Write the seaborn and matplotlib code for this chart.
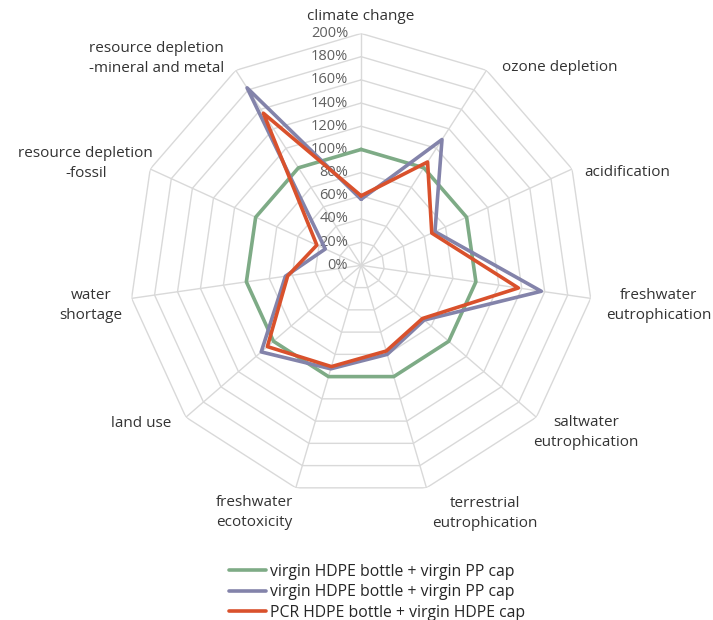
import numpy as np
import pandas as pd
import matplotlib
matplotlib.use('Agg')
import matplotlib.pyplot as plt
import seaborn as sns

sns.set_style('white')
plt.rcParams['font.family'] = ['Open Sans', 'DejaVu Sans']

categories = ['climate change', 'ozone depletion', 'acidification',
              'freshwater\neutrophication', 'saltwater\neutrophication',
              'terrestrial\neutrophication', 'freshwater\necotoxicity',
              'land use', 'water\nshortage', 'resource depletion\n-fossil',
              'resource depletion\n-mineral and metal']
series_names = ['virgin HDPE bottle + virgin PP cap',
                'virgin HDPE bottle + virgin PP cap',
                'PCR HDPE bottle + virgin HDPE cap']
virgin_pp = [100, 100, 100, 100, 100, 100, 100, 100, 100, 100, 100]
virgin_pp_2 = [57, 129, 70, 157, 72, 80, 93, 114, 66, 34, 182]
pcr_hdpe = [60, 106, 67, 137, 70, 77, 91, 107, 64, 42, 156]
tick_values = [0, 20, 40, 60, 80, 100, 120, 140, 160, 180, 200]

colors = ['#7eab86', '#8383aa', '#d9512c']
n = len(categories)
theta = np.arange(n) * 2 * np.pi / n

fig = plt.figure(figsize=(7.13, 6.2), dpi=100)
ax = fig.add_axes([0.181, 0.198, 0.651, 0.748], projection='polar')
ax.set_theta_zero_location('N')
ax.set_theta_direction(-1)
ax.set_ylim(0, 200)
ax.grid(False)
ax.spines['polar'].set_visible(False)
ax.set_xticks([])
ax.set_yticks([])

# polygon grid and spokes
ring_theta = np.append(theta, theta[0])
for t in tick_values[1:]:
    ax.plot(ring_theta, [t] * (n + 1), color='#d9d9d9', lw=1, zorder=1)
for a in theta:
    ax.plot([a, a], [0, 200], color='#d9d9d9', lw=1, zorder=1)

for vals, name, c in zip([virgin_pp, virgin_pp_2, pcr_hdpe], series_names, colors):
    df = pd.DataFrame({'theta': ring_theta, 'value': vals + vals[:1]})
    sns.lineplot(data=df, x='theta', y='value', sort=False, estimator=None,
                 ax=ax, color=c, lw=2.6, label=name, legend=False, zorder=3)
ax.set_xlabel('')
ax.set_ylabel('')

# radial tick labels
for t in tick_values:
    ax.annotate(f'{t}%', (0, t), xytext=(-13, 0), textcoords='offset pixels',
                ha='right', va='center', fontsize=10.5, color='#606060', zorder=2)

# category labels
label_align = [('center', 'bottom', 0, 9), ('left', 'center', 16, 3),
               ('left', 'center', 12, -3), ('left', 'center', 15, -7),
               ('left', 'top', -3, 2), ('left', 'top', 6, -8),
               ('right', 'top', -3, -7), ('right', 'center', -15, -6),
               ('right', 'center', -9, -7), ('right', 'center', 3, 6),
               ('right', 'center', -12, 12)]
for a, lab, (ha, va, ox, oy) in zip(theta, categories, label_align):
    ax.annotate(lab, (a, 200), xytext=(ox, oy), textcoords='offset pixels',
                ha=ha, va=va, multialignment='center', fontsize=11,
                linespacing=1.45, color='#333333', annotation_clip=False)

handles, labels = ax.get_legend_handles_labels()
fig.legend(handles, labels, loc='lower center', bbox_to_anchor=(0.529, -0.024),
           frameon=False, fontsize=11.3, handlelength=2.4, handletextpad=0.25,
           labelspacing=0.28)

fig.savefig('out.png', dpi=100)
